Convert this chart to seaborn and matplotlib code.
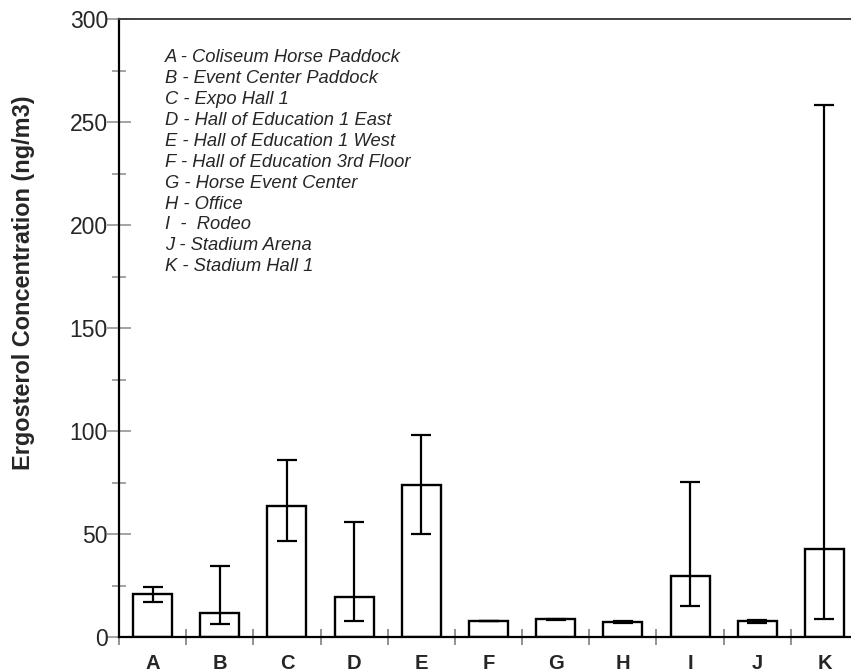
import matplotlib
matplotlib.use("Agg")
import matplotlib.pyplot as plt
from matplotlib.ticker import MultipleLocator
import numpy as np
import pandas as pd
import seaborn as sns

# Sampling sites and mean ergosterol levels with asymmetric error limits
sites = ["A", "B", "C", "D", "E", "F", "G", "H", "I", "J", "K"]
means = [20.7, 11.5, 63.4, 19.6, 73.9, 7.9, 8.6, 7.1, 29.5, 7.6, 42.6]
upper = [24.4, 34.5, 85.9, 56.0, 98.2, 8.0, 8.8, 7.6, 75.4, 8.4, 258.3]
lower = [17.0, 6.5, 46.8, 7.8, 50.1, 7.8, 8.4, 6.6, 15.2, 6.9, 8.7]

site_names = [
    "A - Coliseum Horse Paddock",
    "B - Event Center Paddock",
    "C - Expo Hall 1",
    "D - Hall of Education 1 East",
    "E - Hall of Education 1 West",
    "F - Hall of Education 3rd Floor",
    "G - Horse Event Center",
    "H - Office",
    "I  -  Rodeo",
    "J - Stadium Arena",
    "K - Stadium Hall 1",
]

sns.set_style("white")
plt.rcParams["font.family"] = ["Liberation Sans", "DejaVu Sans"]

df = pd.DataFrame({"site": sites, "mean": means})

fig = plt.figure(figsize=(8.51, 6.72), dpi=100)
ax = fig.add_axes([119 / 851, 35 / 672, 739 / 851, 618 / 672])

sns.barplot(data=df, x="site", y="mean", order=sites, color="white",
            edgecolor="black", linewidth=1.7, width=0.58, ax=ax)

m = np.array(means)
yerr = np.vstack([m - np.array(lower), np.array(upper) - m])
ax.errorbar(np.arange(len(sites)), m, yerr=yerr, fmt="none", ecolor="black",
            elinewidth=1.6, capsize=7, capthick=1.6, zorder=5)

ax.set_xlim(-0.5, len(sites) - 0.5)
ax.set_ylim(0, 300)
ax.yaxis.set_major_locator(MultipleLocator(50))
ax.yaxis.set_minor_locator(MultipleLocator(25))
ax.set_xticks(np.arange(len(sites) + 1) - 0.5, minor=False)
ax.set_xticklabels([])
ax.set_xticks(np.arange(len(sites)), minor=True)
ax.set_xticklabels(sites, minor=True, fontsize=14.5, fontweight="bold")

ax.tick_params(axis="x", which="major", direction="inout", length=12,
               width=1.3, color="#8a8a8a", bottom=True)
ax.tick_params(axis="x", which="minor", length=0, pad=12, bottom=True)
ax.tick_params(axis="y", which="major", direction="inout", length=17,
               width=1.1, color="#8a8a8a", labelsize=16.5, pad=-0.5,
               left=True)
ax.tick_params(axis="y", which="minor", direction="inout", length=10,
               width=1.1, color="#8a8a8a", left=True)

ax.set_xlabel("")
ax.set_ylabel("Ergosterol Concentration (ng/m3)", fontsize=16.9,
              fontweight="bold")
ax.yaxis.set_label_coords(-0.113, 0.574)

for side in ["left", "bottom"]:
    ax.spines[side].set_color("black")
    ax.spines[side].set_linewidth(1.6)
ax.spines["top"].set_color("#404040")
ax.spines["top"].set_linewidth(1.4)
ax.spines["right"].set_visible(False)

ax.text(0.062, 0.951, "\n".join(site_names), transform=ax.transAxes,
        fontsize=13.2, fontstyle="italic", va="top", ha="left",
        linespacing=1.30)

fig.savefig("out.png", dpi=100)
